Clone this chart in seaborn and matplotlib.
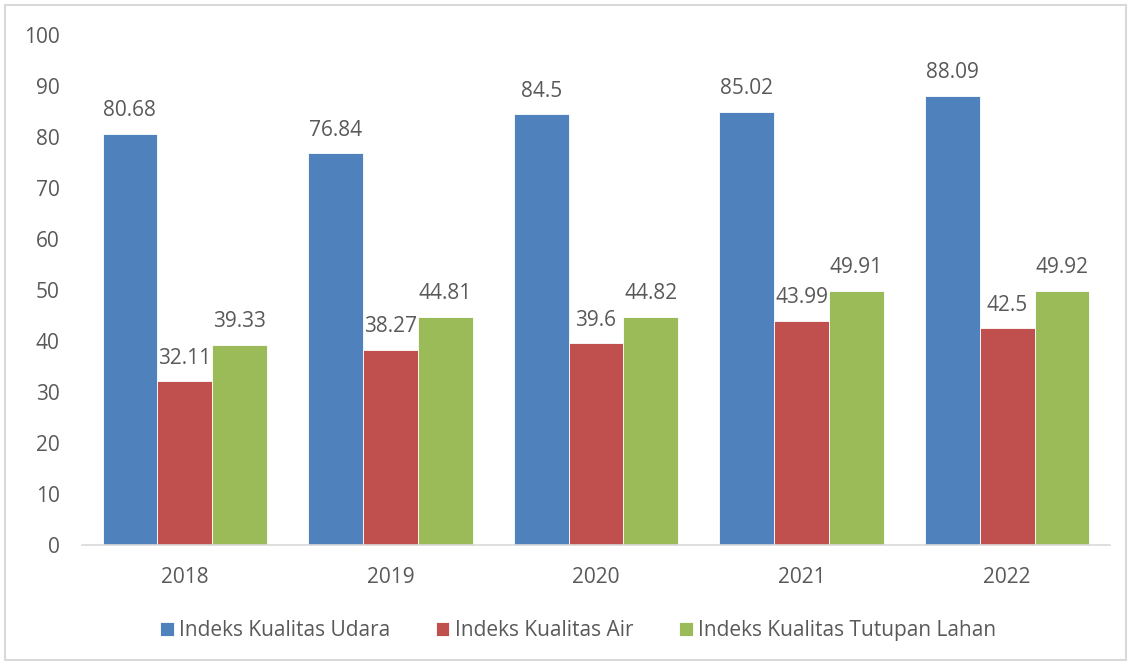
import matplotlib
matplotlib.use("Agg")
import matplotlib.pyplot as plt
import seaborn as sns
import pandas as pd
from matplotlib.patches import Rectangle

years = ["2018", "2019", "2020", "2021", "2022"]
series_names = ["Indeks Kualitas Udara", "Indeks Kualitas Air", "Indeks Kualitas Tutupan Lahan"]
udara = [80.68, 76.84, 84.5, 85.02, 88.09]
air = [32.11, 38.27, 39.6, 43.99, 42.5]
tutupan = [39.33, 44.81, 44.82, 49.91, 49.92]
value_labels = {
    series_names[0]: ["80.68", "76.84", "84.5", "85.02", "88.09"],
    series_names[1]: ["32.11", "38.27", "39.6", "43.99", "42.5"],
    series_names[2]: ["39.33", "44.81", "44.82", "49.91", "49.92"],
}
colors = ["#4F81BD", "#C0504D", "#9BBB59"]

rows = []
for name, vals in zip(series_names, [udara, air, tutupan]):
    for y, v in zip(years, vals):
        rows.append({"Tahun": y, "Seri": name, "Nilai": v})
df = pd.DataFrame(rows)

sns.set_theme(style="white")
plt.rcParams["font.family"] = ["Open Sans", "DejaVu Sans"]
text_color = "#595959"
fs = 15

fig = plt.figure(figsize=(11.32, 6.64), dpi=100)
ax = fig.add_axes([0.0724, 0.179, 0.9082, 0.768])

sns.barplot(data=df, x="Tahun", y="Nilai", hue="Seri", order=years,
            hue_order=series_names, palette=colors, width=0.8, saturation=1,
            edgecolor="white", linewidth=0.6, ax=ax, errorbar=None)

for cont, name in zip(ax.containers, series_names):
    ax.bar_label(cont, labels=value_labels[name], padding=9, fontsize=fs,
                 color=text_color)

ax.set_ylim(0, 100)
ax.set_xlim(-0.5, 4.5)
ax.set_yticks(range(0, 101, 10))
ax.set_xlabel("")
ax.set_ylabel("")
for s in ["top", "right", "left"]:
    ax.spines[s].set_visible(False)
ax.spines["bottom"].set_color("#D9D9D9")
ax.spines["bottom"].set_linewidth(1.2)
ax.tick_params(axis="both", length=0, labelsize=fs, colors=text_color)
ax.tick_params(axis="y", pad=16)
ax.tick_params(axis="x", pad=16)

ax.legend(loc="center", bbox_to_anchor=(0.4825, -0.168), ncol=3, frameon=False,
          fontsize=fs, labelcolor=text_color, handlelength=0.65, handleheight=0.65,
          handletextpad=0.25, columnspacing=2.2)

fig.patches.append(Rectangle((0.0045, 0.006), 0.9905, 0.986, transform=fig.transFigure,
                             fill=False, edgecolor="#D9D9D9", linewidth=1.5))

fig.savefig("out.png", dpi=100)
